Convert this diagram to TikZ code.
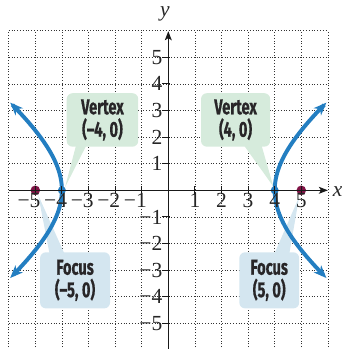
\documentclass[tikz,border=0pt]{standalone}
\usepackage{fontspec}
\setmainfont{Liberation Serif}
\newfontfamily\calloutfont{Fira Sans}[BoldFeatures={FakeBold=0.8}]
\usetikzlibrary{arrows.meta,calc}
\definecolor{curveblue}{RGB}{35,126,193}
\definecolor{focuscol}{RGB}{128,20,70}
\definecolor{vgreen}{RGB}{214,235,220}
\definecolor{fblue}{RGB}{212,230,240}
\definecolor{textdark}{RGB}{40,38,40}
\newcommand\ctxt[1]{\scalebox{0.68}[1]{\calloutfont\bfseries #1}}
\tikzset{
  gridline/.style={line width=0.8pt, dash pattern=on 0.9pt off 2.1pt, black!80},
  axisline/.style={line width=1.3pt, black!90},
  tickline/.style={line width=1.2pt, black!90},
  curve/.style={line width=4.2pt, curveblue, {Stealth[length=0.48cm,width=0.38cm,inset=0.14cm]}-{Stealth[length=0.48cm,width=0.38cm,inset=0.14cm]}},
  callout/.style={rounded corners=0.22cm, inner sep=0pt, align=center, text=textdark,
     font=\fontsize{23}{24}\selectfont},
  vbox/.style={callout, fill=vgreen},
  fbox/.style={callout, fill=fblue},
  numlab/.style={inner sep=0pt, font=\fontsize{23}{24}\selectfont, text=black!85},
  fdot/.style={circle, fill=focuscol, inner sep=0pt, minimum size=0.36cm},
  vdot/.style={circle, fill=curveblue, inner sep=0pt, minimum size=0.3cm},
}
\begin{document}
\begin{tikzpicture}
\useasboundingbox (-6.327,-5.966) rectangle (6.53,7.154);
\clip (-6.327,-5.966) rectangle (6.53,7.154);
% grid
\foreach \i in {-6,...,6} {
  \draw[gridline] (\i,-6) -- (\i,6);
  \draw[gridline] (-6,\i) -- (6,\i);
}
% callout boxes
\node[vbox, minimum width=2.69cm, minimum height=2.01cm] (VL) at (-2.475,2.645) {\ctxt{Vertex}\\\ctxt{(–4, 0)}};
\node[vbox, minimum width=2.6cm, minimum height=2.01cm] (VR) at (2.53,2.645) {\ctxt{Vertex}\\\ctxt{(4, 0)}};
\node[fbox, minimum width=2.63cm, minimum height=2.11cm] (FL) at (-3.505,-3.385) {\ctxt{Focus}\\\ctxt{(–5, 0)}};
\node[fbox, minimum width=2.25cm, minimum height=2.11cm] (FR) at (3.795,-3.385) {\ctxt{Focus}\\\ctxt{(5, 0)}};
% tails
\coordinate (tVL) at (-3.88,0.12);
\coordinate (tVR) at (3.95,0.14);
\coordinate (tFL) at (-4.89,-0.18);
\coordinate (tFR) at (4.92,-0.24);
\fill[vgreen] ($(VL.south west)+(0.37,0.1)$) -- (tVL) -- ($(VL.south west)+(0.77,0.1)$) -- cycle;
\fill[vgreen] ($(VR.south west)+(1.59,0.1)$) -- (tVR) -- ($(VR.south west)+(2.27,0.1)$) -- cycle;
\fill[fblue] ($(FL.north west)+(0.37,-0.1)$) -- (tFL) -- ($(FL.north west)+(0.94,-0.1)$) -- cycle;
\fill[fblue] ($(FR.north west)+(1.31,-0.1)$) -- (tFR) -- ($(FR.north west)+(1.88,-0.1)$) -- cycle;
% hyperbola
\draw[curve] plot[domain=-0.95:0.95, samples=60, smooth] ({-4*cosh(\x)},{3*sinh(\x)});
\draw[curve] plot[domain=-0.95:0.95, samples=60, smooth] ({4*cosh(\x)},{3*sinh(\x)});
% dots
\node[vdot] (V1) at (-4,0) {};
\node[vdot] (V2) at (4,0) {};
\node[fdot] (F1) at (-5,0) {};
\node[fdot] (F2) at (5,0) {};
% axes
\coordinate (xs) at (-6,0);
\coordinate (xe) at (6,0);
\coordinate (ys) at (0,-6);
\coordinate (ye) at (0,5.98);
\draw[axisline, -{Stealth[length=0.34cm,width=0.26cm,inset=0.08cm]}] (xs) -- (xe);
\draw[axisline, -{Stealth[length=0.34cm,width=0.26cm,inset=0.08cm]}] (ys) -- (ye);
\node[numlab, font=\fontsize{23}{24}\selectfont\itshape] (xlab) at (6.37,-0.03) {x};
\node[numlab, font=\fontsize{23}{24}\selectfont\itshape] (ylab) at (-0.13,6.62) {y};
% ticks and labels
\foreach \i in {1,...,5} {
  \draw[tickline] (\i,-0.15) -- (\i,0.15);
  \draw[tickline] (-\i,-0.15) -- (-\i,0.15);
  \draw[tickline] (-0.24,\i) -- (0.05,\i);
  \draw[tickline] (-0.24,-\i) -- (0.05,-\i);
  \node[numlab, anchor=base] (xp\i) at (\i,-0.66) {\i};
  \node[numlab, anchor=base east] (xn\i) at (-\i+0.2,-0.66) {−\i};
  \node[numlab, anchor=east] (yp\i) at (-0.22,\i) {\i};
  \node[numlab, anchor=east] (yn\i) at (-0.22,-\i) {−\i};
}
\end{tikzpicture}
\end{document}
